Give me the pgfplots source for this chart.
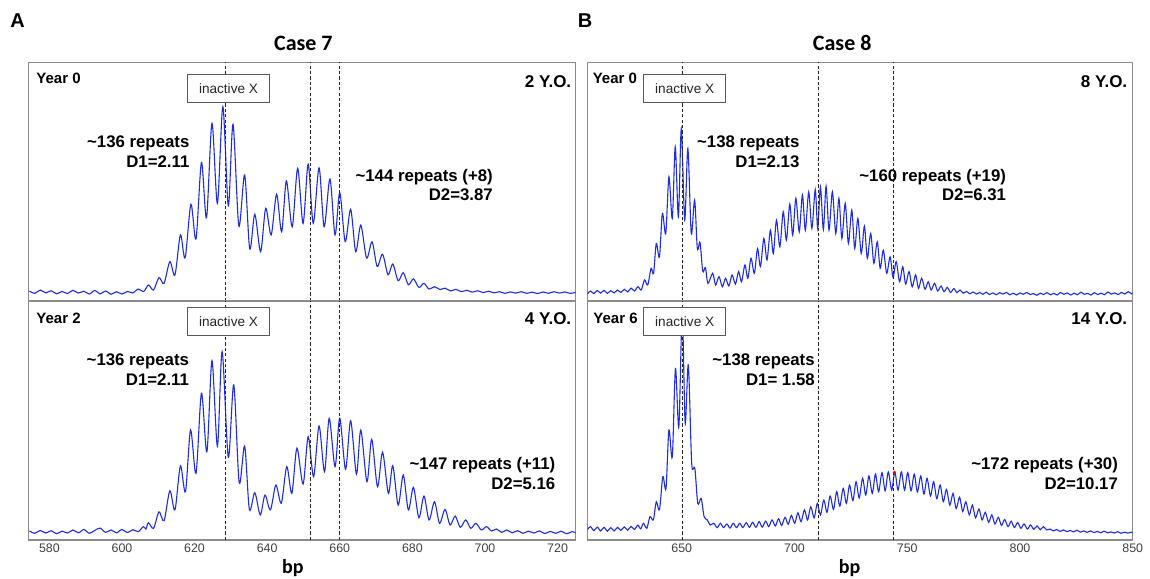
\documentclass[border=0pt]{standalone}
\usepackage{pgfplots}
\pgfplotsset{compat=1.18}
\usepackage{fontspec}
\setmainfont{Liberation Sans}
\newfontfamily\carlito{Carlito}
\definecolor{traceblue}{RGB}{30,45,225}
\pgfplotsset{
  panel/.style={scale only axis, anchor=south west, ymin=0, ymax=100, ytick=\empty,
    axis line style={black!45, line width=0.6pt}, major tick length=0pt,
    xticklabel style={font=\fontsize{6.2}{7}\selectfont, text=black!75, inner sep=1.5pt},
    /pgf/number format/assume math mode=true, clip=true},
  tr/.style={traceblue, line width=0.55pt, smooth, tension=0.5, mark=none}
}
\tikzset{vl/.style={black!85, line width=0.45pt, dash pattern=on 1.6pt off 1.1pt},
  ibox/.style={draw=black!65, line width=0.5pt, fill=white},
  ann/.style={inner sep=0pt, font=\fontsize{8.4}{9}\selectfont\bfseries},
  yr/.style={inner sep=0pt, anchor=base west, font=\fontsize{7.5}{9}\selectfont\bfseries},
  yo/.style={inner sep=0pt, anchor=base east, font=\fontsize{8.5}{9}\selectfont\bfseries}}
\begin{document}
\begin{tikzpicture}
\path[use as bounding box] (0,0) rectangle (575pt,-289pt);
% ---------------- Case 7, Year 0
\begin{axis}[panel, at={(14.15pt,-150.5pt)}, width=273.7pt, height=119.35pt, xmin=574.2, xmax=725, xtick=\empty]
\addplot[tr] coordinates {
(574.5,4.2)(576,3.2)(577.5,4.6)(579,3.4)(580.5,4.3)(582,3.0)(583.5,4.0)(585,3.1)(586.5,4.5)(588,3.3)(589.5,4.1)(591,2.9)(592.5,4.4)(594,3.0)(595.5,4.2)(597,2.8)(598.5,3.9)(600,2.9)(601.5,4.0)(603,3.4)(604.5,5.0)(606,4.0)
(607.3,6.7)(608.7,4.6)(610.2,9.8)(611.6,7.4)(613.2,16.5)(614.6,10.9)(616.1,27.7)(617.4,18.1)(619.0,40.5)(620.4,26.0)(621.9,58.1)(623.3,34.9)(624.8,74.4)(626.3,40.9)(627.8,81.4)(629.3,39.9)(630.6,74.0)(632.2,31.5)(633.8,52.8)(635.2,21.8)(636.6,36.3)(638.2,20.7)(639.6,38.8)(641.1,27.7)(642.6,44.7)(644.0,29.0)(645.3,50.3)(646.9,31.1)(648.4,55.6)(649.9,32.5)(651.3,57.3)(652.7,32.5)(654.3,55.8)(655.7,31.1)(657.3,51.1)(658.7,27.7)(660.0,45.4)(661.5,24.9)(663.0,38.4)(664.4,20.7)(665.8,31.8)(667.4,18.0)(668.9,24.8)(670.3,14.5)(671.8,19.6)(673.3,11.0)(674.6,15.5)(676.1,8.5)(677.5,11.9)(678.9,6.8)(680.3,9.3)(681.8,5.7)(683.2,7.4)(684.6,5.0)(686.1,6.0)
(687.6,4.8)(689,5.4)(690.5,4.2)(692,4.9)(693.5,3.9)(695,4.5)(696.5,3.7)(698,4.3)(699.5,3.5)(701,4.1)(702.5,3.4)(704,3.9)(705.5,3.2)(707,3.8)(708.5,3.3)(710,3.9)(711.5,3.2)(713,3.7)(714.5,3.1)(716,3.8)(717.5,3.2)(719,3.9)(720.5,3.3)(722,3.8)(723.5,3.2)(725,3.6)
};
\draw[vl] (628.4,0) -- (628.4,100);
\draw[vl] (651.9,0) -- (651.9,100);
\draw[vl] (659.9,0) -- (659.9,100);
\end{axis}
% ---------------- Case 7, Year 2
\begin{axis}[panel, at={(14.15pt,-270pt)}, width=273.7pt, height=119.5pt, xmin=574.2, xmax=725, xtick={580,600,...,720}]
\addplot[tr] coordinates {
(574.5,3.8)(576,2.8)(577.5,4.0)(579,2.9)(580.5,3.9)(582,2.6)(583.5,3.7)(585,2.9)(586.5,4.2)(588,3.0)(589.5,4.4)(591,2.8)(592.5,4.0)(594,5.0)(595.5,3.2)(597,4.2)(598.5,3.0)(600,4.4)(601.5,3.1)(603,4.3)(604.5,3.5)(605.9,5.6)(606.6,4.6)
(607.3,7.2)(608.7,4.9)(610.2,11.8)(611.6,8.1)(613.2,20.6)(614.6,12.6)(616.1,31.0)(617.5,20.2)(618.9,46.0)(620.4,27.9)(621.9,61.4)(623.4,36.9)(624.8,75.0)(626.3,39.3)(627.6,78.8)(629.3,34.6)(630.8,64.9)(632.3,24.0)(633.8,39.3)(635.1,12.8)(636.6,19.8)(638.1,10.5)(639.4,18.8)(640.9,12.6)(642.4,23.0)(643.9,15.4)(645.4,30.7)(646.8,19.5)(648.2,38.4)(649.9,23.4)(651.3,43.2)(652.8,26.5)(654.3,47.7)(655.8,28.6)(657.1,50.9)(658.7,30.7)(660.0,50.9)(661.6,29.6)(663.0,49.9)(664.6,27.6)(665.8,46.0)(667.5,24.4)(668.8,42.1)(670.4,22.3)(671.8,36.7)(673.4,19.5)(674.6,31.1)(676.1,14.6)(677.5,27.2)(678.9,12.6)(680.3,22.0)(681.8,9.3)(683.2,18.4)(684.6,8.4)(686.1,16.0)(687.5,7.0)(689.0,12.8)(690.4,6.3)(691.8,10.0)(693.2,5.3)(694.7,8.4)(696.1,4.9)(697.5,7.0)(699.0,4.2)(700.4,5.6)(701.8,3.8)
(703.2,4.6)(704.6,3.2)(706,4.2)(707.5,3.0)(709,3.9)(710.5,2.8)(712,3.7)(713.5,2.9)(715,3.8)(716.5,2.7)(718,3.6)(719.5,2.8)(721,3.7)(722.5,2.6)(724,3.5)(725,3.0)
};
\draw[vl] (628.4,0) -- (628.4,100);
\draw[vl] (651.9,0) -- (651.9,100);
\draw[vl] (659.9,0) -- (659.9,100);
\end{axis}
% ---------------- Case 8, Year 0
\begin{axis}[panel, at={(293.65pt,-150.5pt)}, width=272.7pt, height=119.35pt, xmin=608.1, xmax=850, xtick=\empty]
\addplot[tr] coordinates {
(608.2,3.0)(609.5,4.2)(611,3.1)(612.5,4.4)(614,3.3)(615.5,4.5)(617,3.2)(618.5,4.3)(620,3.4)(621.5,4.6)(623,3.6)(624.5,4.9)(626,3.8)(627.5,5.4)(629,4.2)
(630.6,6.0)(632.0,4.6)(633.5,8.8)(634.9,6.7)(636.4,13.7)(637.5,11.6)(638.7,24.1)(640.1,18.5)(641.4,36.7)(642.9,28.3)(644.3,52.0)(645.8,34.6)(647.1,64.6)(648.5,35.3)(649.8,72.2)(651.3,33.9)(652.7,63.9)(654.2,28.3)(655.7,42.3)(656.9,22.0)(658.1,24.5)(659.3,12.5)(660.5,14.0)(661.6,7.4)
(663.7,11.6)(665.0,6.7)(666.5,10.2)(668.0,6.0)(669.4,9.5)(670.9,6.3)(672.3,10.9)(673.8,7.1)(675.2,12.3)(676.5,8.1)(678.0,15.1)(679.3,9.5)(680.7,17.9)(682.2,11.6)(683.6,22.0)(684.9,14.4)(686.4,26.2)(687.8,17.2)(689.3,29.7)(690.6,19.9)(692.0,33.9)(693.5,22.7)(695.0,37.4)(696.4,25.5)(697.9,40.6)(699.2,27.6)(700.6,43.0)(702.1,29.0)(703.5,44.4)(704.8,29.7)(706.3,45.7)(707.7,30.4)(709.2,46.7)(710.3,30.4)(711.5,47.8)(712.8,30.0)(714.0,48.1)(715.3,29.7)(716.8,45.7)(718.3,28.3)(719.7,43.0)(721.0,26.2)(722.5,40.9)(723.9,24.1)(725.4,38.1)(726.7,22.0)(728.1,34.6)(729.6,19.9)(731.0,31.4)(732.3,17.9)(733.8,28.3)(735.2,15.8)(736.7,24.8)(738.0,13.7)(739.4,21.3)(740.9,11.6)(742.4,18.5)(743.7,9.9)(745.1,16.5)(746.6,8.1)(748.0,14.4)(749.3,7.1)(750.8,12.3)(752.2,6.0)(753.7,10.9)(755.0,5.3)(756.4,9.5)(757.9,4.9)(759.3,8.1)(760.6,4.6)(762.1,7.4)(763.5,4.2)(765.0,6.3)(766.3,3.9)(767.8,5.7)(769.2,3.6)(770.7,5.2)(772.0,3.5)(773.4,4.6)(774.9,3.3)
(776.3,4.0)(777.8,3.0)(779.2,3.8)(780.7,2.9)(782.1,3.6)(783.6,2.8)(785,3.7)(786.5,2.7)(788,3.4)(789.5,2.6)(791,3.5)(792.5,2.9)(794,3.6)(795.5,2.6)(797,3.3)(798.5,2.5)(800,3.4)(801.5,2.8)(803,3.6)(804.5,2.7)(806,3.1)(807.5,2.4)(809,3.3)(810.5,2.7)(812,3.5)(813.5,2.6)(815,3.2)(816.5,2.5)(818,3.6)(819.5,2.8)(821,3.4)(822.5,2.5)(824,3.3)(825.5,2.6)(827,3.7)(828.5,2.8)(830,3.2)(831.5,2.5)(833,3.5)(834.5,2.7)(836,3.3)(837.5,2.6)(839,3.8)(840.5,2.9)(842,3.4)(843.5,2.7)(845,3.6)(846.5,2.9)(848,3.9)(849.5,3.0)(850,3.4)
};
\draw[vl] (650.1,0) -- (650.1,100);
\draw[vl] (710.8,0) -- (710.8,100);
\draw[vl] (744.1,0) -- (744.1,100);
\end{axis}
% ---------------- Case 8, Year 6
\begin{axis}[panel, at={(293.65pt,-270pt)}, width=272.7pt, height=119.5pt, xmin=608.1, xmax=850, xtick={650,700,750,800,850}]
\addplot[tr] coordinates {
(608.2,4.4)(609.5,5.6)(611,3.9)(612.5,5.4)(614,3.8)(615.5,5.3)(617,3.7)(618.5,5.2)(620,3.8)(621.5,5.3)(623,4.0)(624.5,5.5)(626,4.1)(627.5,5.7)(629,4.4)(630.5,6.2)(631.8,4.7)
(633.0,7.0)(634.5,4.9)(635.9,9.8)(637.4,8.4)(638.7,16.0)(640.1,12.6)(641.6,26.5)(643.0,21.6)(644.3,46.0)(645.8,34.9)(647.2,71.8)(648.7,47.4)(650.2,95.0)(651.5,48.8)(652.9,73.2)(654.4,32.1)(655.8,30.0)(657.1,15.3)(658.6,17.4)(659.9,9.8)(661.3,8.4)(662.6,6.3)
(664.2,7.0)(665.7,5.2)(667.1,7.0)(668.5,5.2)(670.0,6.7)(671.4,5.0)(672.8,7.0)(674.3,5.2)(675.7,7.0)(677.1,5.2)(678.6,7.3)(680.0,5.3)(681.4,7.4)(682.9,5.3)(684.3,7.7)(685.7,5.4)(687.2,7.9)(688.6,5.6)(690.0,8.4)(691.5,5.9)(692.9,8.9)(694.3,6.1)(695.8,9.5)(697.2,6.6)(698.6,10.3)(700.1,7.0)(701.5,11.4)(702.9,7.7)(704.4,12.6)(705.8,8.4)(707.2,13.9)(708.7,9.3)(710.1,15.3)(711.5,10.5)(713.0,16.7)(714.4,11.6)(715.8,18.4)(717.3,12.8)(718.7,20.2)(720.1,14.2)(721.6,21.6)(723.0,15.3)(724.4,23.0)(725.9,16.5)(727.3,24.4)(728.7,17.6)(730.2,25.8)(731.6,18.8)(733.0,26.8)(734.5,19.5)(735.9,27.6)(737.3,20.2)(738.8,28.2)(740.2,20.6)(741.6,28.5)(743.1,20.9)(744.5,28.5)(745.9,20.9)(747.4,28.5)(748.8,20.9)(750.2,28.2)(751.7,20.6)(753.1,27.6)(754.5,20.1)(756.0,26.8)(757.4,19.2)(758.8,25.8)(760.3,18.4)(761.7,24.4)(763.1,17.3)(764.6,23.0)(766.0,16.0)(767.4,21.2)(768.9,14.6)(770.3,19.5)(771.7,13.2)(773.2,17.9)(774.6,11.9)(776.0,16.0)(777.5,10.5)(778.9,14.6)(780.3,9.3)(781.8,13.0)(783.2,8.4)(784.6,11.6)(786.1,7.4)(787.5,10.5)(788.9,6.7)(790.4,9.5)(791.8,6.1)(793.2,8.6)(794.7,5.6)(796.1,7.9)(797.5,5.2)(799.0,7.3)(800.4,4.9)(801.8,6.7)(803.3,4.6)(804.7,6.3)(806.1,4.5)(807.6,5.9)(809.0,4.3)(810.4,5.6)(811.9,4.2)
(813.3,4.6)(814.8,3.8)(816.3,4.4)(817.8,3.6)(819.3,4.2)(820.8,3.5)(822.3,4.0)(823.8,3.4)(825.3,4.1)(826.8,3.3)(828.3,3.8)(829.8,3.2)(831.3,3.8)(832.8,3.1)(834.3,3.6)(835.8,3.0)(837.3,3.7)(838.8,3.0)(840.3,3.4)(841.8,2.9)(843.3,3.5)(844.8,2.8)(846.3,3.3)(847.8,2.9)(849.3,3.3)(850,3.0)
};
\addplot[only marks, mark=*, mark size=0.6pt, red] coordinates {(744.3,28.2)};
\draw[vl] (650.1,0) -- (650.1,100);
\draw[vl] (710.8,0) -- (710.8,100);
\draw[vl] (744.1,0) -- (744.1,100);
\end{axis}
% ---------------- boxes
\draw[ibox] (93.85pt,-37pt) rectangle (134.65pt,-51pt);
\node[inner sep=0pt, font=\fontsize{6.8}{8}\selectfont, text=black!85] at (114.25pt,-44.2pt) {inactive X};
\draw[ibox] (93.85pt,-153.65pt) rectangle (134.65pt,-167.5pt);
\node[inner sep=0pt, font=\fontsize{6.8}{8}\selectfont, text=black!85] at (114.25pt,-160.8pt) {inactive X};
\draw[ibox] (321.85pt,-37pt) rectangle (362.85pt,-51pt);
\node[inner sep=0pt, font=\fontsize{6.8}{8}\selectfont, text=black!85] at (342.35pt,-44.2pt) {inactive X};
\draw[ibox] (321.85pt,-153.65pt) rectangle (362.85pt,-167.5pt);
\node[inner sep=0pt, font=\fontsize{6.8}{8}\selectfont, text=black!85] at (342.35pt,-160.8pt) {inactive X};
% ---------------- headings
\node[inner sep=0pt, anchor=base west, font=\fontsize{10}{12}\selectfont\bfseries] at (5pt,-13.5pt) {A};
\node[inner sep=0pt, anchor=base west, font=\fontsize{10}{12}\selectfont\bfseries] at (288.7pt,-13.5pt) {B};
\node[inner sep=0pt, anchor=base, font=\carlito\fontsize{11}{13}\selectfont\bfseries] at (151.7pt,-25.35pt) {Case 7};
\node[inner sep=0pt, anchor=base, font=\carlito\fontsize{11}{13}\selectfont\bfseries] at (421.1pt,-25.35pt) {Case 8};
\node[inner sep=0pt, anchor=base, font=\carlito\fontsize{10}{12}\selectfont\bfseries] at (146.4pt,-286.75pt) {bp};
\node[inner sep=0pt, anchor=base, font=\carlito\fontsize{10}{12}\selectfont\bfseries] at (424.85pt,-286.75pt) {bp};
% ---------------- panel labels
\node[yr] at (18pt,-41.65pt) {Year 0};
\node[yr] at (18pt,-161.5pt) {Year 2};
\node[yr] at (296.2pt,-41.65pt) {Year 0};
\node[yr] at (296.5pt,-161.5pt) {Year 6};
\node[yo] at (285.8pt,-43.6pt) {2 Y.O.};
\node[yo] at (285.8pt,-162pt) {4 Y.O.};
\node[yo] at (563.8pt,-43.6pt) {8 Y.O.};
\node[yo] at (563.8pt,-162pt) {14 Y.O.};
% ---------------- annotations
\node[ann, anchor=base east] at (94.9pt,-73.5pt) {\textasciitilde136 repeats};
\node[ann, anchor=base east] at (94.9pt,-83.85pt) {D1=2.11};
\node[ann, anchor=base east] at (246.6pt,-90.5pt) {\textasciitilde144 repeats (+8)};
\node[ann, anchor=base east] at (246.6pt,-100.25pt) {D2=3.87};
\node[ann, anchor=base east] at (94.7pt,-182.65pt) {\textasciitilde136 repeats};
\node[ann, anchor=base east] at (94.7pt,-192.85pt) {D1=2.11};
\node[ann, anchor=base east] at (277.85pt,-234.65pt) {\textasciitilde147 repeats (+11)};
\node[ann, anchor=base east] at (277.85pt,-244.5pt) {D2=5.16};
\node[ann, anchor=base east] at (399.9pt,-73.5pt) {\textasciitilde138 repeats};
\node[ann, anchor=base east] at (399.9pt,-83.85pt) {D1=2.13};
\node[ann, anchor=base east] at (503.2pt,-90.5pt) {\textasciitilde160 repeats (+19)};
\node[ann, anchor=base east] at (503.2pt,-100.25pt) {D2=6.31};
\node[ann, anchor=base east] at (407.55pt,-182.65pt) {\textasciitilde138 repeats};
\node[ann, anchor=base east] at (407.55pt,-192.85pt) {D1= 1.58};
\node[ann, anchor=base east] at (559.15pt,-234.65pt) {\textasciitilde172 repeats (+30)};
\node[ann, anchor=base east] at (559.15pt,-244.5pt) {D2=10.17};
\end{tikzpicture}
\end{document}
